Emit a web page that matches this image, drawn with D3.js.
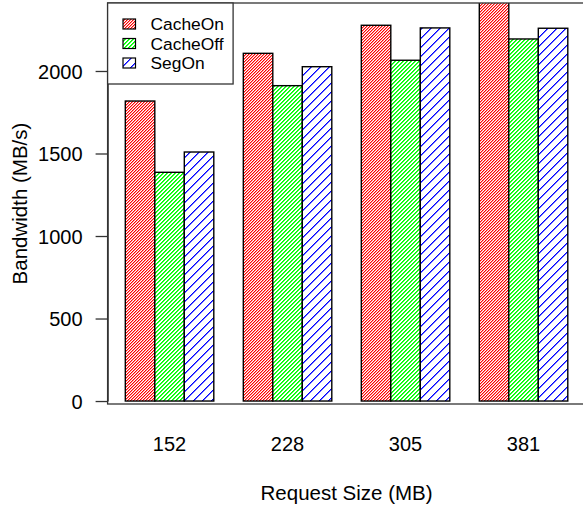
<!DOCTYPE html>
<html>
<head>
<meta charset="utf-8">
<script src="https://cdn.jsdelivr.net/npm/d3@7"></script>
<style>
  body { margin: 0; background: #fff; }
  text { font-family: "Liberation Sans", Arial, sans-serif; fill: #000; }
</style>
</head>
<body>
<div id="chart"></div>
<script>
// Datos
const sizes = ["152", "228", "305", "381"];
const series = ["CacheOn", "CacheOff", "SegOn"];
const cacheOn = [1818, 2107, 2277, 2420];
const cacheOff = [1386, 1911, 2065, 2194];
const segOn = [1509, 2026, 2261, 2259];
const yTicks = [0, 500, 1000, 1500, 2000];

const values = [cacheOn, cacheOff, segOn];
const colors = ["#ff0000", "#00ff00", "#0000ff"];
const hatchStep = [3, 4, 9]; // periodo de las rayas a 45° (px)
const hatchSoft = [0.45, 0.8, 0.6]; // opacidad del píxel vecino (antialias)

const width = 583;
const height = 508;
const plot = { left: 107.6, right: 585.5, top: 3, bottom: 404 };

const svg = d3
  .select("#chart")
  .append("svg")
  .attr("width", width)
  .attr("height", height);

const defs = svg.append("defs");

// Patrones de rayado en píxeles (como el raster de R)
series.forEach((s, i) => {
  const k = hatchStep[i];
  const p = defs
    .append("pattern")
    .attr("id", "hatch" + i)
    .attr("patternUnits", "userSpaceOnUse")
    .attr("width", k)
    .attr("height", k);
  p.append("rect").attr("width", k).attr("height", k).attr("fill", "#fff");
  const rows = d3.range(k);
  [
    { dx: 0, op: 1 },
    { dx: 1, op: hatchSoft[i] },
  ].forEach((px) => {
    p.selectAll(null)
      .data(rows)
      .enter()
      .append("rect")
      .attr("x", (r) => (k - 1 - r + px.dx) % k)
      .attr("y", (r) => r)
      .attr("width", 1)
      .attr("height", 1)
      .attr("fill", colors[i])
      .attr("fill-opacity", px.op)
      .attr("shape-rendering", "crispEdges");
  });
});

defs
  .append("clipPath")
  .attr("id", "plotclip")
  .append("rect")
  .attr("x", plot.left)
  .attr("y", plot.top)
  .attr("width", plot.right - plot.left)
  .attr("height", plot.bottom - plot.top);

// Escalas
const y = d3.scaleLinear().domain([-18, 2412]).range([plot.bottom, plot.top]);

const x0 = d3
  .scaleBand()
  .domain(sizes)
  .range([plot.left, plot.right])
  .paddingInner(0.25)
  .paddingOuter(0.15);

const x1 = d3.scaleBand().domain(series).range([0, x0.bandwidth()]);

// Barras
const bars = svg.append("g").attr("clip-path", "url(#plotclip)");

sizes.forEach((size, gi) => {
  series.forEach((s, si) => {
    const v = values[si][gi];
    bars
      .append("rect")
      .attr("x", x0(size) + x1(s))
      .attr("y", y(v))
      .attr("width", x1.bandwidth())
      .attr("height", y(0) - y(v))
      .attr("fill", `url(#hatch${si})`)
      .attr("stroke", "#000")
      .attr("stroke-width", 1.4);
  });
});

// Caja del gráfico
svg
  .append("rect")
  .attr("x", plot.left)
  .attr("y", plot.top)
  .attr("width", plot.right - plot.left)
  .attr("height", plot.bottom - plot.top)
  .attr("fill", "none")
  .attr("stroke", "#333")
  .attr("stroke-width", 1.3);

// Eje Y (solo de 0 a 2000, como en R)
const yAxisScale = d3
  .scaleLinear()
  .domain([0, 2000])
  .range([y(0), y(2000)]);

const yAxis = svg
  .append("g")
  .attr("transform", `translate(${plot.left},0)`)
  .call(
    d3
      .axisLeft(yAxisScale)
      .tickValues(yTicks)
      .tickSize(12)
      .tickSizeOuter(0)
      .tickPadding(13)
      .tickFormat(d3.format("d"))
  );

yAxis.select(".domain").attr("stroke", "#333").attr("stroke-width", 1.3);
yAxis.selectAll(".tick line").attr("stroke", "#333").attr("stroke-width", 1.3);
yAxis
  .selectAll(".tick text")
  .style("font-family", '"Liberation Sans", Arial, sans-serif')
  .style("font-size", "20px")
  .attr("fill", "#000")
  .attr("dy", "0.36em");

// Etiquetas X
svg
  .append("g")
  .selectAll("text")
  .data(sizes)
  .enter()
  .append("text")
  .attr("x", (d) => x0(d) + x0.bandwidth() / 2)
  .attr("y", 451)
  .attr("text-anchor", "middle")
  .style("font-size", "20px")
  .text((d) => d);

// Títulos de ejes
svg
  .append("text")
  .attr("x", (plot.left + plot.right) / 2)
  .attr("y", 500)
  .attr("text-anchor", "middle")
  .style("font-size", "20.5px")
  .text("Request Size (MB)");

svg
  .append("text")
  .attr("transform", `translate(27,${(plot.top + plot.bottom) / 2}) rotate(-90)`)
  .attr("text-anchor", "middle")
  .style("font-size", "20.5px")
  .text("Bandwidth (MB/s)");

// Leyenda
const legend = svg.append("g");

legend
  .append("rect")
  .attr("x", plot.left)
  .attr("y", plot.top)
  .attr("width", 125.5)
  .attr("height", 81)
  .attr("fill", "#fff")
  .attr("stroke", "#333")
  .attr("stroke-width", 1.3);

series.forEach((s, i) => {
  const cy = 24 + i * 19.5;
  legend
    .append("rect")
    .attr("x", 123)
    .attr("y", cy - 5)
    .attr("width", 12.5)
    .attr("height", 10)
    .attr("fill", `url(#hatch${i})`)
    .attr("stroke", "#000")
    .attr("stroke-width", 1.2);
  legend
    .append("text")
    .attr("x", 150.5)
    .attr("y", cy)
    .attr("dy", "0.36em")
    .style("font-size", "17.4px")
    .text(s);
});
</script>
</body>
</html>
